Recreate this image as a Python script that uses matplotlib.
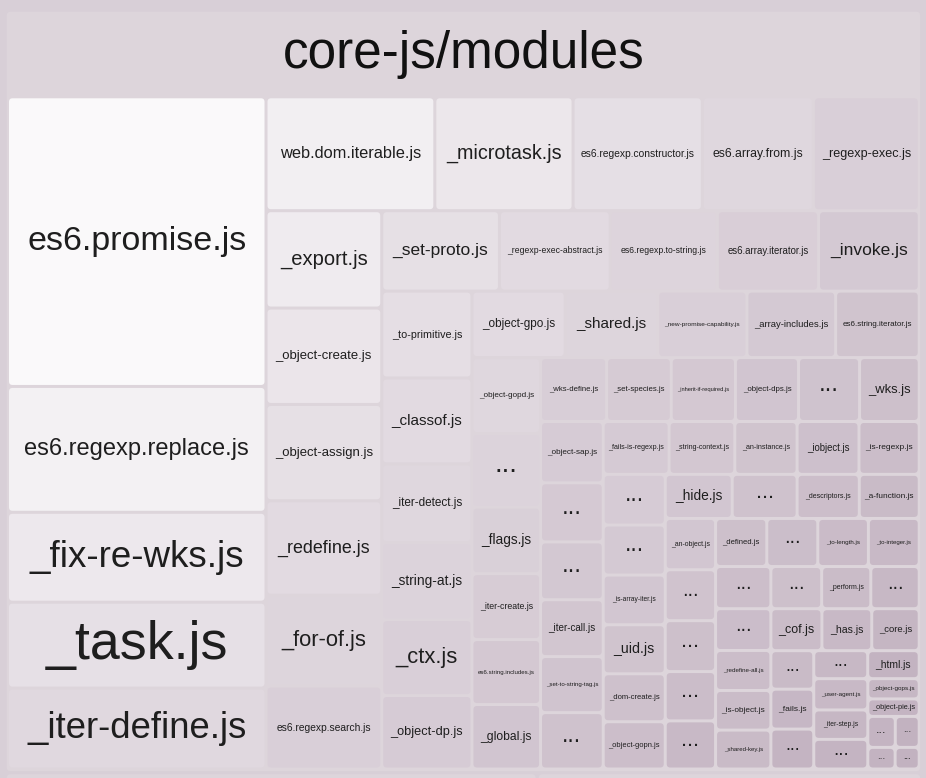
import matplotlib
matplotlib.use("Agg")
import matplotlib.pyplot as plt
from matplotlib.patches import FancyBboxPatch
import numpy as np

# top level groups, only core-js/modules is fully in view
group_names = ["core-js/modules", "", ""]
group_sizes = [698831, 232750, 168219]
group_strips = [1, 1, 1]

file_names = [
    "es6.promise.js", "es6.regexp.replace.js", "_fix-re-wks.js", "_task.js", "_iter-define.js",
    "web.dom.iterable.js", "_microtask.js", "es6.regexp.constructor.js", "es6.array.from.js", "_regexp-exec.js",
    "_export.js", "_object-create.js", "_object-assign.js", "_redefine.js", "_for-of.js", "es6.regexp.search.js",
    "_set-proto.js", "_regexp-exec-abstract.js", "es6.regexp.to-string.js", "es6.array.iterator.js", "_invoke.js",
    "_to-primitive.js", "_classof.js", "_iter-detect.js", "_string-at.js", "_ctx.js", "_object-dp.js",
    "_object-gpo.js", "_shared.js", "_new-promise-capability.js", "_array-includes.js", "es6.string.iterator.js",
    "_object-gopd.js", "...", "_flags.js", "_iter-create.js", "es6.string.includes.js", "_global.js",
    "_wks-define.js", "_set-species.js", "_inherit-if-required.js", "_object-dps.js", "...", "_wks.js",
    "_object-sap.js", "...", "...", "_iter-call.js", "_set-to-string-tag.js", "...",
    "_fails-is-regexp.js", "_string-context.js", "_an-instance.js", "_iobject.js", "_is-regexp.js",
    "...", "...", "_is-array-iter.js", "_uid.js", "_dom-create.js", "_object-gopn.js",
    "_hide.js", "...", "_descriptors.js", "_a-function.js",
    "_an-object.js", "...", "...", "...", "...",
    "_defined.js", "...", "_to-length.js", "_to-integer.js",
    "...", "...", "_redefine-all.js", "_is-object.js", "_shared-key.js",
    "...", "_perform.js", "...",
    "_cof.js", "_has.js", "_core.js",
    "...", "_fails.js", "...",
    "...", "_html.js",
    "_user-agent.js", "_iter-step.js", "...",
    "_object-gops.js",
    "_object-pie.js",
    "...", "...",
    "...",
    "...",
]

file_sizes = [
    7482, 3251, 2322, 2219, 2090,
    1921, 1573, 1471, 1265, 1203,
    1126, 1115, 1114, 1092, 1051, 959,
    946, 890, 861, 813, 809,
    783, 774, 711, 693, 684, 662,
    619, 615, 592, 589, 555,
    521, 504, 456, 452, 445, 442,
    422, 413, 410, 403, 390, 381,
    384, 370, 362, 356, 351, 353,
    348, 347, 329, 327, 318,
    314, 310, 308, 304, 297, 293,
    295, 286, 274, 264,
    258, 256, 256, 248, 242,
    246, 245, 243, 244,
    233, 231, 221, 219, 215,
    214, 207, 204,
    214, 209, 199,
    165, 171, 171,
    151, 144,
    169, 159, 160,
    104,
    90,
    85, 74,
    59,
    52,
]

# number of files in each strip of the layout
file_strips = [5, 5, 6, 5, 6, 5, 6, 6, 6, 5, 6, 4, 5, 4, 5, 3, 3, 3, 2, 3, 1, 1, 2, 1, 1]

# red channel of the first and last cell of each strip (colour goes darker along a strip)
strip_light = [(250, 224), (242, 217), (239, 217), (230, 212), (229, 214), (226, 208),
               (223, 209), (216, 205), (214, 207), (213, 203), (214, 204), (210, 201),
               (210, 200), (205, 200), (204, 201), (205, 199), (202, 197), (201, 196),
               (199, 195), (200, 196), (198, 198), (196, 196), (196, 194), (195, 195),
               (194, 194)]

# label size in pixels
label_px = [
    34, 23.6, 36.7, 53.7, 36.5,
    16.4, 19.8, 10.2, 12.3, 12.6,
    20.1, 13.1, 13.1, 17.9, 21.9, 10.2,
    17.4, 8.7, 8.7, 9.7, 17.4,
    10.7, 15.2, 11.7, 13.7, 22, 12.8,
    11.8, 15.2, 6.5, 9.5, 8.0,
    8.2, 27, 13.6, 8.8, 6.1, 12.1,
    7.8, 7.8, 5.8, 7.9, 24, 13,
    8.2, 24, 24, 9.9, 6.2, 23,
    7.1, 7.1, 7.1, 9.7, 8.4,
    23, 23, 6.6, 14.1, 7.7, 7.5,
    13.8, 22, 7, 8.3,
    6.9, 20, 22, 22, 22,
    7.6, 20, 6.3, 6.1,
    20, 20, 6.3, 8.3, 6.2,
    20, 6.9, 20,
    12.5, 10.5, 9.5,
    18, 8.5, 18,
    18, 10.3,
    6.3, 6.8, 19,
    6.4,
    7.4,
    13, 10,
    10, 9,
]

BG = "#d8cfd7"
GROUP = "#ddd5db"
LO = np.array([195, 179, 193]) / 255.0
HI = np.array([250, 249, 250]) / 255.0
TXT = "#1e1e1e"
FONT = "Liberation Sans"
GAP = 1.5


def strip_layout(values, counts, x, y, w, h):
    # lay the values out in strips along the shorter side
    scale = w * h / float(sum(values))
    rects = []
    i = 0
    for n in counts:
        vals = values[i:i + n]
        area = sum(vals) * scale
        if w <= h:
            t = area / w
            cx = x
            for v in vals:
                cw = v * scale / t
                rects.append((cx, y, cw, t))
                cx += cw
            y += t
            h -= t
        else:
            t = area / h
            cy = y
            for v in vals:
                ch = v * scale / t
                rects.append((x, cy, t, ch))
                cy += ch
            x += t
            w -= t
        i += n
    return rects


def box(ax, r, color, rad=3.5):
    x, y, w, h = r
    p = FancyBboxPatch((x + GAP, y + GAP), w - 2 * GAP, h - 2 * GAP,
                       boxstyle="round,pad=0,rounding_size=%f" % rad,
                       fc=color, ec="none", lw=0)
    ax.add_patch(p)


fig = plt.figure(figsize=(9.26, 7.78), dpi=100, facecolor=BG)
ax = fig.add_axes([0, 0, 1, 1])
ax.set_xlim(0, 926)
ax.set_ylim(778, 0)
ax.axis("off")

groups = strip_layout(group_sizes, group_strips, 5.2, 10.2, 916.5, 1200)
for name, r in zip(group_names, groups):
    box(ax, r, GROUP, rad=4)
    if name:
        x, y, w, h = r
        ax.text(x + w / 2, y + 58.1, name, ha="center", va="baseline",
                fontsize=51.2 * 0.72, family=FONT, color="#111111")

# children of core-js/modules
gx, gy, gw, gh = groups[0]
cells = strip_layout(file_sizes, file_strips, gx + 2.3, gy + 86.6, gw - 4.8, gh - 90.3)

# per cell shade from the strip ramps
shade = []
for n, (a, b) in zip(file_strips, strip_light):
    for k in range(n):
        r = a + (b - a) * (k / (n - 1.0) if n > 1 else 0.0)
        shade.append((r - 195) / 55.0)

for name, r, s, px in zip(file_names, cells, shade, label_px):
    col = np.clip(LO + (HI - LO) * s, 0, 1)
    box(ax, r, col)
    x, y, w, h = r
    cx = x + w / 2
    cy = y + h / 2
    if name == "...":
        ax.text(cx, cy + px * 0.05, name, ha="center", va="baseline",
                fontsize=px * 0.72, family=FONT, color=TXT)
    else:
        ax.text(cx, cy, name, ha="center", va="center",
                fontsize=px * 0.72, family=FONT, color=TXT)

fig.savefig("out.png", dpi=100, facecolor=BG)
